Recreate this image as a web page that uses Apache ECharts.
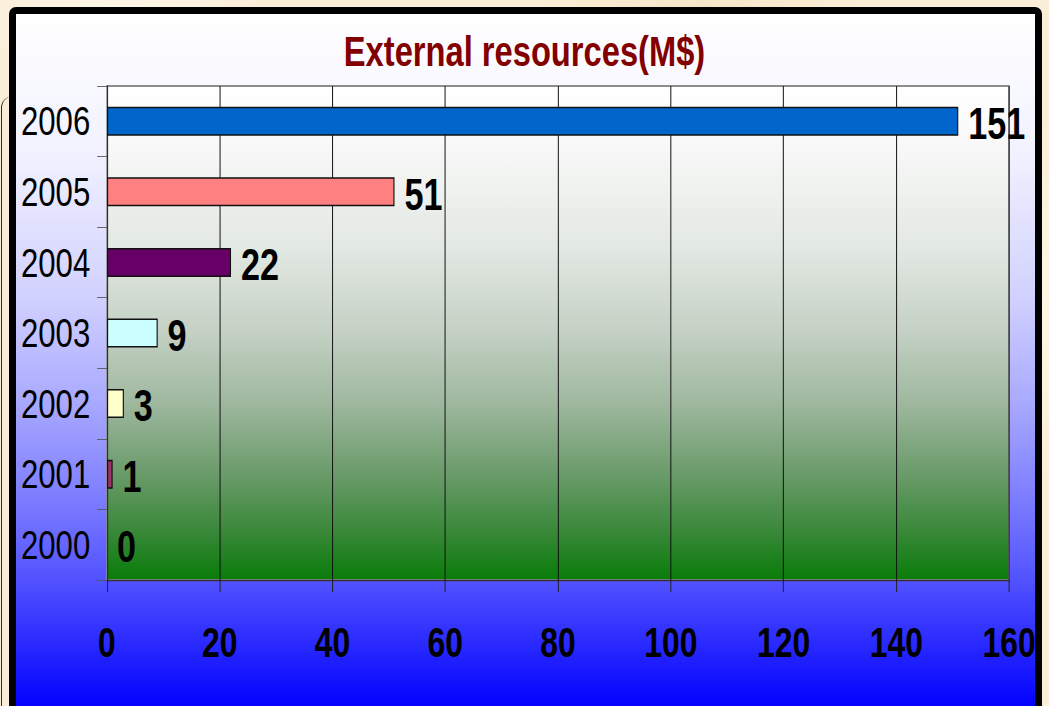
<!DOCTYPE html>
<html>
<head>
<meta charset="utf-8">
<title>External resources(M$)</title>
<script src="https://cdn.jsdelivr.net/npm/echarts@6/dist/echarts.min.js"></script>
<style>
  html, body { margin: 0; padding: 0; width: 1049px; height: 706px; overflow: hidden; }
  body {
    background-color: #fbeed8;
    background-image:
      radial-gradient(ellipse 220px 90px at 120px 20px, rgba(255,248,236,0.9), rgba(255,248,236,0) 70%),
      radial-gradient(ellipse 260px 80px at 700px 10px, rgba(246,228,198,0.9), rgba(246,228,198,0) 70%),
      radial-gradient(ellipse 30px 260px at 1046px 300px, rgba(255,247,232,0.9), rgba(255,247,232,0) 70%);
  }
  #scroll {
    position: absolute; left: 1px; top: 96px; width: 12px; height: 700px;
    border-left: 1.5px solid #3b2c1c; border-top-left-radius: 12px;
  }
  #panel {
    position: absolute; left: 9px; top: 7px; width: 1033px; height: 760px;
    box-sizing: border-box; border: 7px solid #000; border-radius: 7px;
    overflow: hidden;
    background: linear-gradient(to bottom,
      #ffffff 0px, #f2f2ff 136px, #d0d0ff 286px, #aaaaff 386px,
      #7c7cff 486px, #5252ff 566px, #0202ff 692px, #0000ff 746px);
  }
  #chart {
    position: absolute; left: -16px; top: -14px; height: 706px;
    transform-origin: 0 0;
  }
</style>
</head>
<body>
<div id="scroll"></div>
<div id="panel"><div id="chart"></div></div>
<script>
// Chart data
const titleText = 'External resources(M$)';
const years = ['2000', '2001', '2002', '2003', '2004', '2005', '2006'];
const resources = [0, 1, 3, 9, 22, 51, 151];
const barColors = ['#9999ff', '#993366', '#ffffcc', '#ccffff', '#660066', '#ff8080', '#0066cc'];
const xTicks = { min: 0, max: 160, interval: 20 };

// The chart is laid out wider and compressed horizontally so the lettering
// gets the tight, narrow look of the original slide typography.
const PAGE_W = 1049;
const LAYOUT_W = 1380;
const S = PAGE_W / LAYOUT_W;
const el = document.getElementById('chart');
el.style.width = LAYOUT_W + 'px';
el.style.transform = 'scaleX(' + S + ')';

const FONT = '"Liberation Sans", Arial, sans-serif';
const plotLeft = 107 / S;
const plotRight = LAYOUT_W - 1009 / S;

const chart = echarts.init(el, null, { renderer: 'svg' });
chart.setOption({
  animation: false,
  backgroundColor: 'transparent',
  title: {
    text: titleText,
    left: 'center',
    top: 29,
    padding: 0,
    textStyle: { color: '#820000', fontSize: 43, fontWeight: 'bold', fontFamily: FONT }
  },
  grid: {
    show: true,
    left: plotLeft,
    right: plotRight,
    top: 86,
    bottom: 126,
    borderColor: '#8c8c8c',
    borderWidth: 2,
    backgroundColor: new echarts.graphic.LinearGradient(0, 0, 0, 1, [
      { offset: 0, color: '#ffffff' },
      { offset: 0.1, color: '#fafafa' },
      { offset: 0.33, color: '#e2e8e2' },
      { offset: 0.49, color: '#c6d2c6' },
      { offset: 0.64, color: '#9fb89f' },
      { offset: 0.78, color: '#6c9c6c' },
      { offset: 0.9, color: '#3a883a' },
      { offset: 1, color: '#087c08' }
    ])
  },
  xAxis: {
    type: 'value',
    min: xTicks.min,
    max: xTicks.max,
    interval: xTicks.interval,
    axisLine: { show: true, lineStyle: { color: '#333', width: 1.3 } },
    axisTick: { show: true, length: 12, lineStyle: { color: '#222', width: 1.3 } },
    splitLine: { show: true, lineStyle: { color: '#111', width: 1.3 } },
    axisLabel: {
      margin: 41,
      color: '#000',
      fontSize: 42,
      fontWeight: 'bold',
      fontFamily: FONT
    }
  },
  yAxis: {
    type: 'category',
    data: years,
    axisLine: { show: true, lineStyle: { color: '#333', width: 1.3 } },
    axisTick: { show: true, length: 13, lineStyle: { color: '#555', width: 1 } },
    splitLine: { show: false },
    axisLabel: {
      margin: 22,
      color: '#000',
      fontSize: 41,
      fontFamily: FONT
    }
  },
  series: [{
    type: 'bar',
    data: resources.map((v, i) => ({
      value: v,
      // an empty year gets no outline, only its value label
      itemStyle: { color: barColors[i], borderWidth: v === 0 ? 0 : 1.5 }
    })),
    barWidth: 29,
    itemStyle: { borderColor: '#111' },
    label: {
      show: true,
      position: 'right',
      distance: 13,
      offset: [0, 2],
      formatter: '{c}',
      color: '#000',
      fontSize: 45,
      fontWeight: 'bold',
      fontFamily: FONT
    }
  }]
});
</script>
</body>
</html>
